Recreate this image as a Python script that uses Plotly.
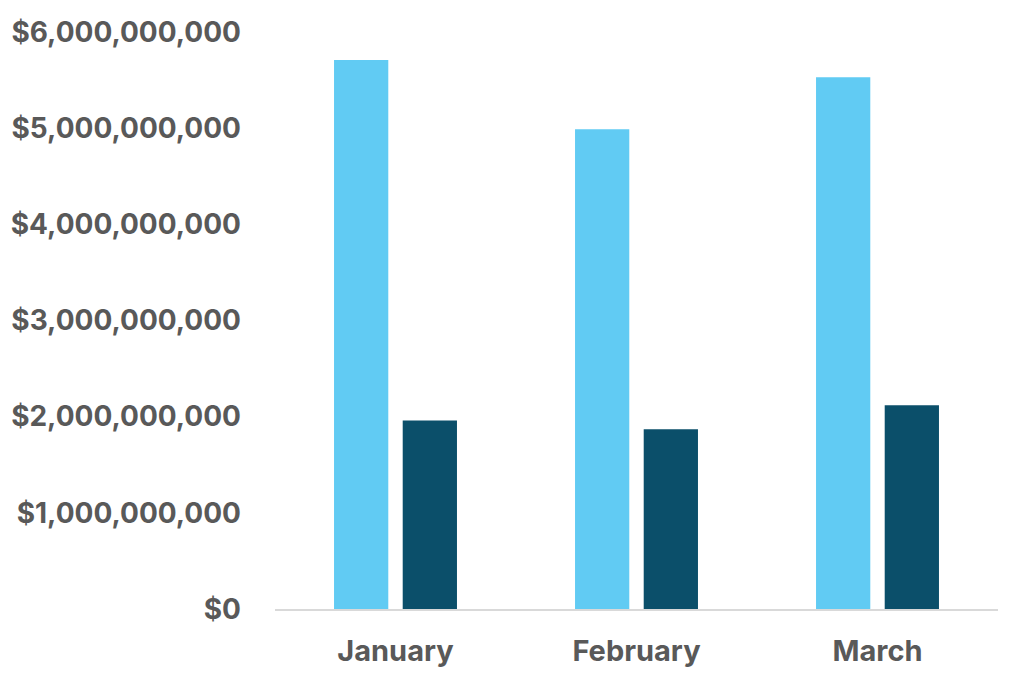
import plotly.graph_objects as go

months = ['January', 'February', 'March']
series_a = [5.71e9, 4.99e9, 5.53e9]
series_b = [1.96e9, 1.87e9, 2.12e9]
tick_vals = [0, 1e9, 2e9, 3e9, 4e9, 5e9, 6e9]
tick_text = ['$0', '$1,000,000,000', '$2,000,000,000', '$3,000,000,000',
             '$4,000,000,000', '$5,000,000,000', '$6,000,000,000']

font_gray = '#595959'

fig = go.Figure()
fig.add_trace(go.Bar(x=months, y=series_a, marker=dict(color='#61CBF3', line_width=0)))
fig.add_trace(go.Bar(x=months, y=series_b, marker=dict(color='#0B4F6A', line_width=0)))

# page body has an 8px margin, so the figure is a bit smaller than the window
fig.update_layout(
    template='plotly_white',
    barmode='group',
    bargap=0.43,
    bargroupgap=0.21,
    showlegend=False,
    autosize=False,
    width=1008,
    height=671,
    margin=dict(l=267, r=18, t=24, b=70),
    plot_bgcolor='white',
    paper_bgcolor='white',
    font=dict(family='Inter, Liberation Sans, Arial', size=28, color=font_gray),
)
fig.update_xaxes(
    automargin=False,
    showgrid=False,
    showline=True,
    linecolor='#D9D9D9',
    linewidth=1.5,
    ticks='',
    ticklabelstandoff=15,
    tickfont=dict(size=29, color=font_gray, weight='bold'),
)
fig.update_yaxes(
    automargin=False,
    range=[0, 6e9],
    tickvals=tick_vals,
    ticktext=tick_text,
    showgrid=False,
    zeroline=False,
    showline=False,
    ticks='',
    ticklabelstandoff=33,
    tickfont=dict(size=28, color=font_gray, weight='bold'),
)

fig.write_html('out.html')
